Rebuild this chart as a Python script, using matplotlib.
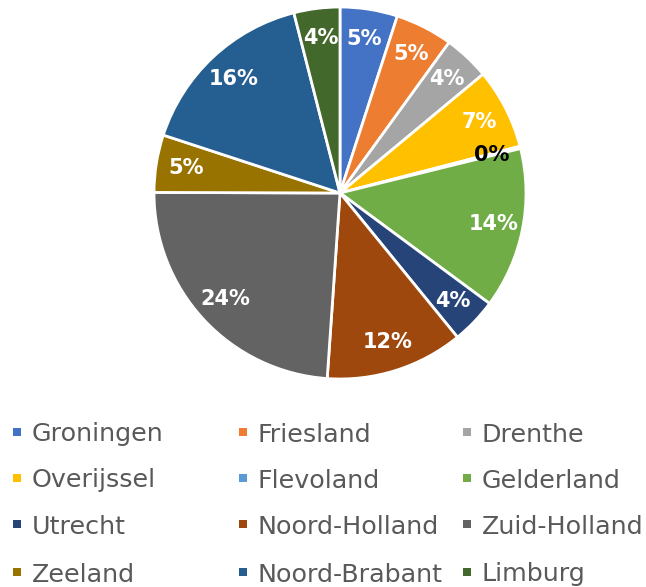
import matplotlib.pyplot as plt
from matplotlib.patches import Rectangle

provinces = ['Groningen', 'Friesland', 'Drenthe', 'Overijssel', 'Flevoland', 'Gelderland',
             'Utrecht', 'Noord-Holland', 'Zuid-Holland', 'Zeeland', 'Noord-Brabant', 'Limburg']
shares = [5, 5, 4, 7, 0.2, 14, 4, 12, 24, 5, 16, 4]
colors = ['#4472C4', '#ED7D31', '#A5A5A5', '#FFC000', '#5B9BD5', '#70AD47',
          '#264478', '#9E480E', '#636363', '#997300', '#255E91', '#43682B']

W, H = 646, 587
fig = plt.figure(figsize=(W / 100, H / 100), dpi=100)

# pie centre (340, 193) px, radius ~186 px
cx, cy, r = 340, 193, 186
pad = 1.01
ax = fig.add_axes([(cx - r * pad) / W, (H - cy - r * pad) / H, 2 * r * pad / W, 2 * r * pad / H])
wedges, texts, autotexts = ax.pie(shares, colors=colors, startangle=90, counterclock=False,
                                  autopct='%.0f%%', pctdistance=0.84,
                                  wedgeprops=dict(edgecolor='white', linewidth=2),
                                  textprops=dict(color='white', fontsize=15, fontweight='bold'))
for name, t in zip(provinces, autotexts):
    if name == 'Flevoland':
        t.set_color('black')
ax.set_xlim(-pad, pad)
ax.set_ylim(-pad, pad)
ax.set_aspect('equal')
ax.axis('off')

# legend, 3 columns
col_x = [17, 243, 467]
row_y = [432, 478, 524, 572]
for i, (name, c) in enumerate(zip(provinces, colors)):
    x = col_x[i % 3]
    y = row_y[i // 3]
    fig.patches.append(Rectangle(((x - 4) / W, (H - y - 4) / H), 8 / W, 8 / H,
                                 transform=fig.transFigure, facecolor=c, edgecolor='none'))
    fig.text((x + 15) / W, (H - y) / H, name, fontsize=18.3, color='#595959',
             ha='left', va='center_baseline')

plt.savefig('out.png', dpi=100)
